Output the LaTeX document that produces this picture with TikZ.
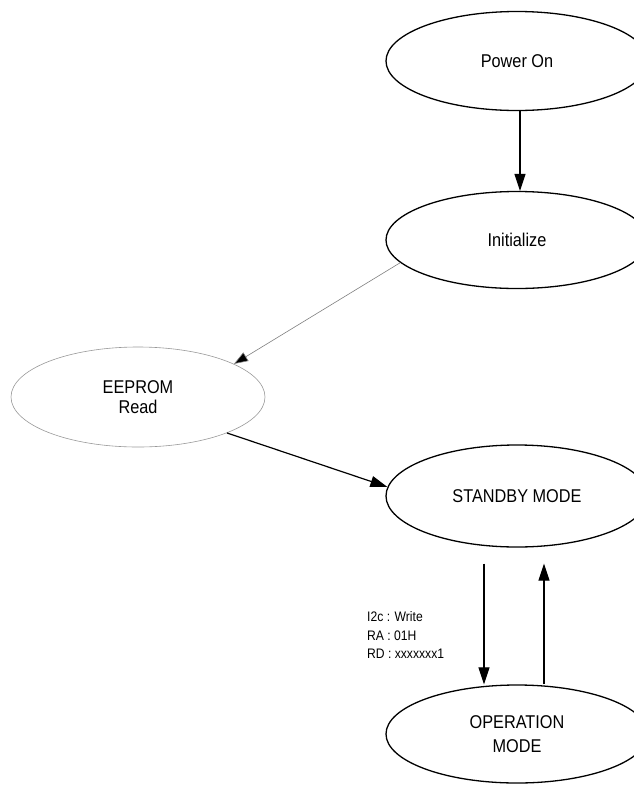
\documentclass[tikz,border=0pt]{standalone}
\usepackage{fontspec}
\setmainfont{Liberation Sans}[FakeStretch=0.88]
\usetikzlibrary{arrows.meta,shapes.geometric,calc}
\begin{document}
\begin{tikzpicture}[x=1pt,y=-1pt,
  state/.style={ellipse,draw=black,line width=1.3pt,minimum width=262pt,minimum height=99pt,inner sep=0pt,
    font=\fontsize{18.5}{22}\selectfont,align=center},
  graystate/.style={state,draw=gray!80,line width=0.6pt},
  arr/.style={line width=1.2pt,-{Triangle[length=17pt,width=11pt]}},
  grayarr/.style={draw=gray,line width=0.6pt,-{Triangle[length=14pt,width=10pt,fill=black]}},
  lbl/.style={font=\fontsize{13.8}{18.5}\selectfont,align=left,inner sep=0pt}]
\useasboundingbox[fill=white] (0,0) rectangle (633,785);
\node[state] (pon) at (517,61) {Power On};
\node[state,minimum height=97pt] (init) at (517,240) {Initialize};
\node[graystate,minimum width=254pt,minimum height=100pt,font=\fontsize{18.5}{20.5}\selectfont] (eep) at (138,397) {EEPROM\\Read};
\node[state,minimum height=102pt] (sb) at (517,496) {STANDBY MODE};
\node[state,minimum height=98pt,font=\fontsize{18.5}{24}\selectfont] (op) at (517,734) {OPERATION\\MODE};
\draw[arr] ([xshift=3pt]pon.south) -- ([xshift=3pt]init.north);
\draw[grayarr] (init.191) -- (eep.19);
\draw[arr] (eep.-22) -- (sb.176);
\draw[arr] ($(sb.south)+(-33,16)$) coordinate (d1) -- (d1 |- op.north);
\draw[arr] ($(op.north)+(27,0)$) coordinate (u1) -- ($(sb.south)+(27,16)$);
\node[lbl,anchor=west] (cmd) at (367,635) {I2c : Write\\RA : 01H\\RD : xxxxxxx1};
\end{tikzpicture}
\end{document}
